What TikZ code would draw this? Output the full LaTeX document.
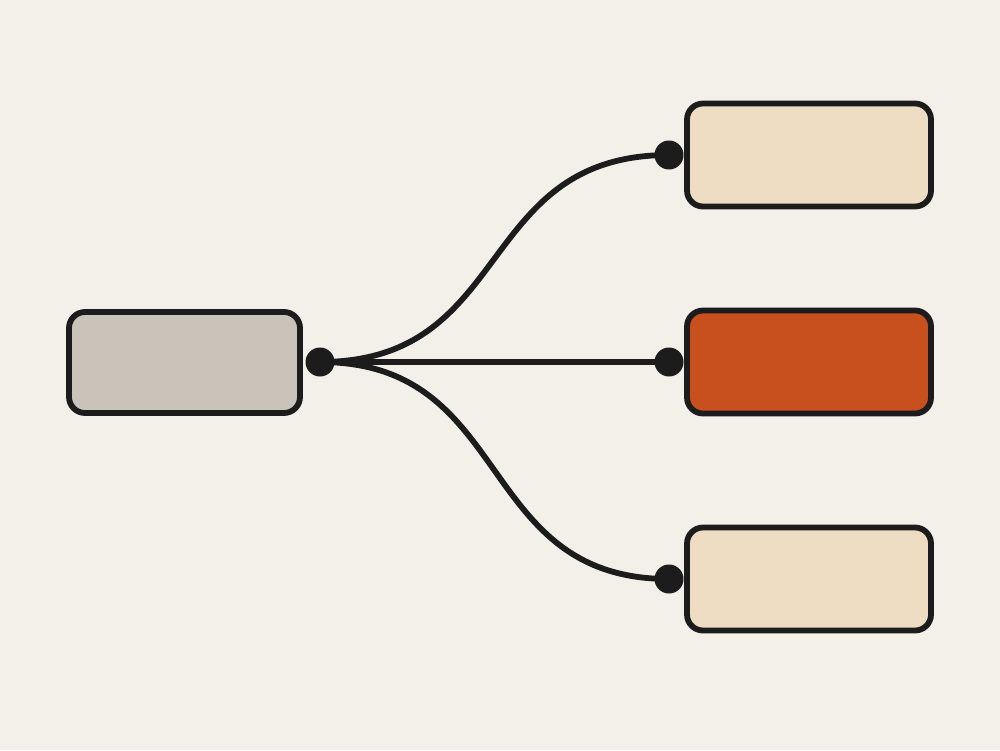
\documentclass[tikz,border=0pt]{standalone}
\usepackage{tikz}
\usepackage{xcolor}

\begin{document}
\begin{tikzpicture}[box/.style={draw=ink,line width=0.058cm,rounded corners=0.16cm,minimum width=2.44cm,minimum height=1.03cm},
  dot/.style={circle,fill=ink,inner sep=0pt,minimum size=0.29cm},
  wire/.style={draw=ink,line width=0.058cm}]
\definecolor{paper}{HTML}{F3F0EA}
\definecolor{stone}{HTML}{C9C3B9}
\definecolor{sand}{HTML}{EEDDC2}
\definecolor{rust}{HTML}{C8501E}
\definecolor{ink}{HTML}{1C1C1C}
\fill [paper] (0,0) rectangle (10,7.5);
\useasboundingbox (0,0) rectangle (10,7.5);
\node [box,fill=stone,minimum width=2.31cm,minimum height=1.01cm] (src) at (1.845,3.875) {};
\node [dot] (dsrc) at (3.2,3.88) {};
  \foreach \crlr/\pos/\nm in {sand/5.95/top,rust/3.88/mid,sand/1.71/bot}
  {  \node [box,fill=\crlr] (\nm) at (8.09,\pos) {};
     \node [dot] (d\nm) at (6.69,\pos) {};
     \draw [wire] (dsrc.center) .. controls +(1.95,0) and +(-1.95,0) .. (d\nm.center);}
\end{tikzpicture}
\end{document}
